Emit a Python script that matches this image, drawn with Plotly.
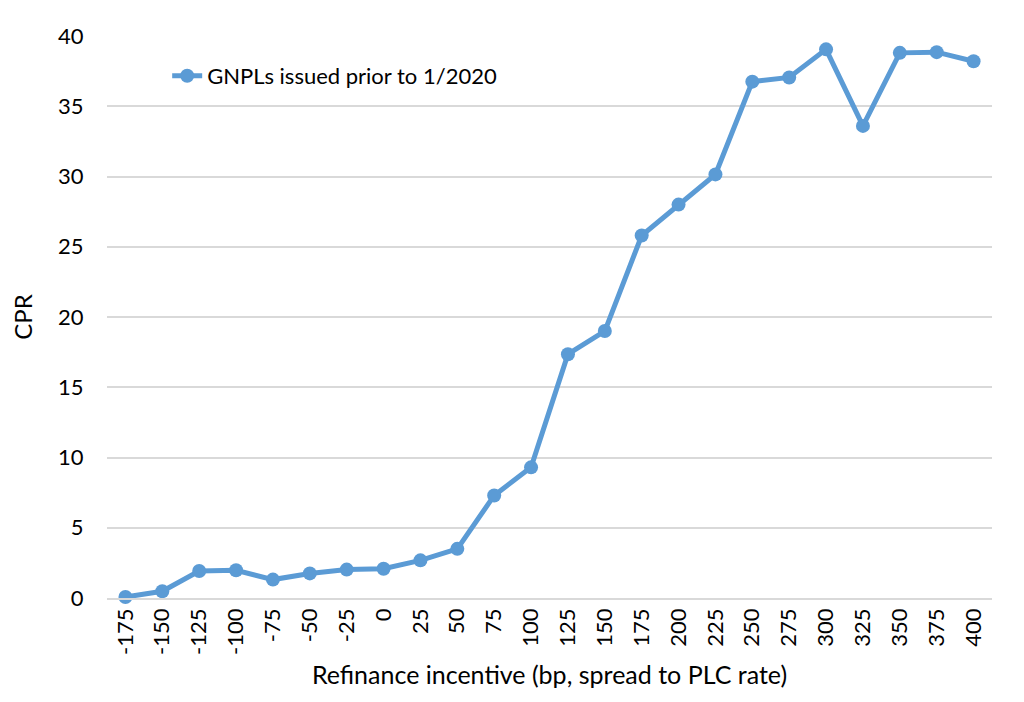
import plotly.graph_objects as go

incentive = [-175, -150, -125, -100, -75, -50, -25, 0, 25, 50, 75, 100, 125, 150,
             175, 200, 225, 250, 275, 300, 325, 350, 375, 400]
cpr = [0.07, 0.48, 1.92, 1.97, 1.31, 1.75, 2.02, 2.08, 2.68, 3.5, 7.3, 9.3, 17.35, 19.0,
       25.8, 28.0, 30.15, 36.75, 37.05, 39.05, 33.6, 38.8, 38.85, 38.2]
labels = [str(v) for v in incentive]
series_name = "GNPLs issued prior to 1/2020"

FONT = "Lato, 'Open Sans', sans-serif"

fig = go.Figure()
fig.add_trace(go.Scatter(
    x=labels, y=cpr, mode="lines+markers", name=series_name,
    line=dict(color="#5B9BD5", width=5),
    marker=dict(color="#5B9BD5", size=14),
    cliponaxis=False,
))

fig.update_layout(
    width=1016, height=694,
    paper_bgcolor="white", plot_bgcolor="white",
    margin=dict(l=99, r=32, t=28, b=104, autoexpand=False),
    font=dict(family=FONT, size=22, color="#000000"),
    showlegend=True,
    legend=dict(x=0.068, y=0.929, xanchor="left", yanchor="middle",
                bgcolor="rgba(0,0,0,0)", font=dict(size=22)),
    xaxis=dict(
        type="category", tickangle=-90, range=[-0.5, len(labels) - 0.5],
        showgrid=False, showline=True, linecolor="#D9D9D9", linewidth=1.5,
        ticks="", tickfont=dict(size=22),
        title=dict(text="Refinance incentive (bp, spread to PLC rate)", font=dict(size=25), standoff=12),
    ),
    yaxis=dict(
        range=[0, 40], dtick=5, showgrid=True, gridcolor="#D9D9D9", gridwidth=1.5,
        zeroline=False, showline=False, ticks="", ticksuffix="    ",
        tickfont=dict(size=22),
        title=dict(text="CPR", font=dict(size=24), standoff=20),
    ),
)

fig.write_html("out.html")
